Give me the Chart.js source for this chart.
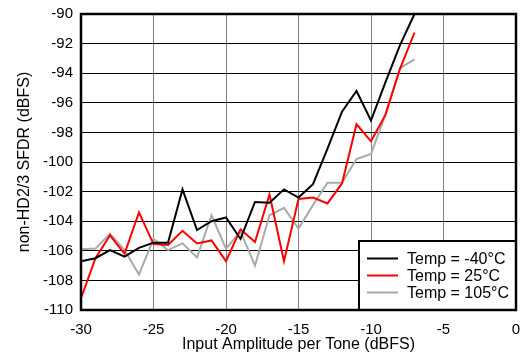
<!DOCTYPE html>
<html>
<head>
<meta charset="utf-8">
<script src="https://cdn.jsdelivr.net/npm/chart.js@4/dist/chart.umd.min.js"></script>
<style>
  html, body { margin: 0; padding: 0; background: #fff; }
  #wrap { width: 522px; height: 356px; }
</style>
</head>
<body>
<div id="wrap"><canvas id="chart1" width="522" height="356"></canvas></div>
<script>
// input amplitude per tone (dBFS)
var amplitude = [-30, -29, -28, -27, -26, -25, -24, -23, -22, -21, -20, -19, -18, -17, -16, -15, -14, -13, -12, -11, -10, -9, -8, -7];
// SFDR (dBFS) per temperature
var sfdrCold = [-106.7, -106.5, -105.95, -106.4, -105.8, -105.45, -105.45, -101.85, -104.6, -104.0, -103.75, -105.2, -102.7, -102.75, -101.85, -102.4, -101.5, -99.1, -96.6, -95.2, -97.2, -94.6, -92.1, -90.0];
var sfdrRoom = [-109.2, -106.5, -104.95, -106.2, -103.4, -105.55, -105.6, -104.65, -105.5, -105.3, -106.7, -104.55, -105.4, -102.2, -106.7, -102.5, -102.4, -102.8, -101.45, -97.45, -98.6, -96.8, -93.7, -91.25];
var sfdrHot = [-105.9, -105.85, -104.85, -105.95, -107.6, -105.2, -105.95, -105.5, -106.45, -103.6, -105.85, -104.7, -107.0, -103.6, -103.1, -104.5, -102.9, -101.4, -101.4, -99.8, -99.45, -96.8, -93.65, -93.06];
var seriesNames = ["Temp = -40\u00b0C", "Temp = 25\u00b0C", "Temp = 105\u00b0C"];
var xTicks = [-30, -25, -20, -15, -10, -5, 0];
var yTicks = [-110, -108, -106, -104, -102, -100, -98, -96, -94, -92, -90];

function toPoints(xs, ys) {
    var pts = [];
    for (var i = 0; i < xs.length; i++) pts.push({x: xs[i], y: ys[i]});
    return pts;
}

// frame round the plot + legend box at bottom right
var framePlugin = {
    id: 'frame',
    afterDraw: function(chart) {
        var ctx = chart.ctx, a = chart.chartArea;
        ctx.save();
        // legend
        var lx = 359, ly = 241, lw = a.right - lx, lh = a.bottom - ly;
        ctx.fillStyle = '#fff';
        ctx.fillRect(lx, ly, lw, lh);
        ctx.strokeStyle = '#000';
        ctx.lineWidth = 2;
        ctx.strokeRect(lx, ly, lw, lh);
        ctx.font = '16px "Liberation Sans", Arial, sans-serif';
        ctx.textBaseline = 'middle';
        chart.data.datasets.forEach(function(ds, i) {
            var yy = 258.5 + i * 17;
            ctx.strokeStyle = ds.borderColor;
            ctx.lineWidth = 2;
            ctx.beginPath();
            ctx.moveTo(367, yy);
            ctx.lineTo(398, yy);
            ctx.stroke();
            ctx.fillStyle = '#000';
            ctx.fillText(ds.label, 407, yy + 1);
        });
        // border
        ctx.strokeStyle = '#000';
        ctx.lineWidth = 2.5;
        ctx.strokeRect(a.left, a.top, a.right - a.left, a.bottom - a.top);
        ctx.restore();
    }
};

var tickFont = {family: '"Liberation Sans", Arial, sans-serif', size: 15};
var titleFont = {family: '"Liberation Sans", Arial, sans-serif', size: 16};

var chart = new Chart(document.getElementById('chart1').getContext('2d'), {
    type: 'line',
    data: {
        datasets: [
            {label: seriesNames[0], data: toPoints(amplitude, sfdrCold), borderColor: '#000000', borderWidth: 2},
            {label: seriesNames[1], data: toPoints(amplitude, sfdrRoom), borderColor: '#ff0000', borderWidth: 2},
            {label: seriesNames[2], data: toPoints(amplitude, sfdrHot), borderColor: '#aaaaaa', borderWidth: 2}
        ]
    },
    options: {
        responsive: false,
        animation: false,
        devicePixelRatio: 1,
        layout: {padding: {top: 14, right: 6, left: 0, bottom: 0}},
        elements: {point: {radius: 0}, line: {tension: 0, fill: false}},
        plugins: {legend: {display: false}, tooltip: {enabled: false}},
        scales: {
            x: {
                type: 'linear',
                min: -30, max: 0,
                afterBuildTicks: function(s) { s.ticks = xTicks.map(function(v) { return {value: v}; }); },
                afterFit: function(s) { s.height = 46; s.paddingLeft = 0; s.paddingRight = 0; },
                grid: {color: '#808080', lineWidth: 1, drawTicks: false},
                border: {display: false},
                ticks: {color: '#000', font: tickFont, padding: 11, maxRotation: 0},
                title: {display: true, text: 'Input Amplitude per Tone (dBFS)', color: '#000', font: titleFont, padding: {top: 0, bottom: 2}}
            },
            y: {
                min: -110, max: -90,
                afterBuildTicks: function(s) { s.ticks = yTicks.map(function(v) { return {value: v}; }); },
                afterFit: function(s) { s.width = 81; s.paddingTop = 0; s.paddingBottom = 0; },
                grid: {color: '#000', lineWidth: 1, drawTicks: false},
                border: {display: false},
                ticks: {color: '#000', font: tickFont, padding: 8},
                title: {display: true, text: 'non-HD2/3 SFDR (dBFS)', color: '#000', font: titleFont, padding: {top: 15, bottom: 0}}
            }
        }
    },
    plugins: [framePlugin]
});
</script>
</body>
</html>
